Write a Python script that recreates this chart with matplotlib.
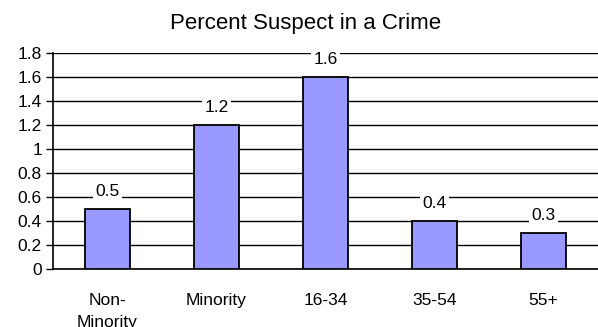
import matplotlib
matplotlib.use("Agg")
import matplotlib.pyplot as plt

categories = ["Non-\nMinority", "Minority", "16-34", "35-54", "55+"]
percent_suspect = [0.5, 1.2, 1.6, 0.4, 0.3]
y_ticks = [0, 0.2, 0.4, 0.6, 0.8, 1, 1.2, 1.4, 1.6, 1.8]
y_tick_labels = ["0", "0.2", "0.4", "0.6", "0.8", "1", "1.2", "1.4", "1.6", "1.8"]

plt.rcParams['font.family'] = ['Liberation Sans', 'DejaVu Sans']

fig = plt.figure(figsize=(5.98, 3.27), dpi=100)
ax = fig.add_axes([53 / 598, 1 - 269 / 327, 545 / 598, (269 - 53) / 327])

x = range(len(categories))
ax.bar(x, percent_suspect, width=0.41, color='#9999FF', edgecolor='black',
       linewidth=1.3, zorder=3)

# value labels sit above each bar on a white patch that breaks the gridline
for xi, v in zip(x, percent_suspect):
    ax.text(xi, v + 0.15, f"{v:g}", ha='center', va='center', fontsize=12.5,
            bbox=dict(facecolor='white', edgecolor='none', pad=1.5), zorder=4)

ax.set_xlim(-0.5, len(categories) - 0.5)
ax.set_ylim(0, 1.8)
ax.set_yticks(y_ticks)
ax.set_yticklabels(y_tick_labels, fontsize=12.5)
ax.set_xticks(list(x))
ax.set_xticklabels(categories, fontsize=12.5, linespacing=1.6)
ax.tick_params(axis='x', length=0, pad=17)
ax.tick_params(axis='y', length=5, width=1, pad=3, direction='out')

ax.yaxis.grid(True, color='black', linewidth=1, zorder=0)
ax.set_axisbelow(True)
for side in ['top', 'right']:
    ax.spines[side].set_visible(False)
ax.spines['left'].set_linewidth(1.2)
ax.spines['bottom'].set_linewidth(1.2)

fig.text(306 / 598, 1 - 23 / 327, "Percent Suspect in a Crime", ha='center',
         va='center', fontsize=16)

fig.savefig("out.png", dpi=100)
